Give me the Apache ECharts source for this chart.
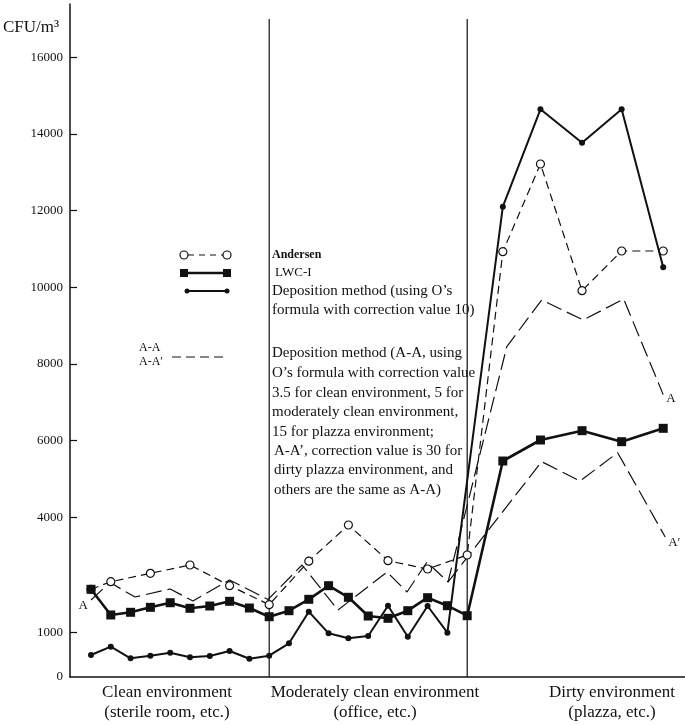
<!DOCTYPE html>
<html><head><meta charset="utf-8">
<script src="https://cdn.jsdelivr.net/npm/echarts@6/dist/echarts.min.js"></script>
<style>html,body{margin:0;padding:0;background:#fff}#c{width:685px;height:725px}</style>
</head><body><div id="c"></div>
<script>
// ---- data ----
const yTickValues = [1000, 4000, 6000, 8000, 10000, 12000, 14000, 16000];
const yAxisMin = -167, yAxisMax = 17391;      // axis bottom drawn as "0"
const xAxisMin = -1.06, xAxisMax = 30;        // sample index units
const boundaries = [9, 19];                   // region separators (sample index)
const boundaryTop = 17000;

const andersenX = [0, 1, 3, 5, 7, 9, 11, 13, 15, 17, 19, 20.8, 22.7, 24.8, 26.8, 28.9];
const andersenY = [2121, 2319, 2538, 2755, 2215, 1720, 2855, 3799, 2867, 2650, 3016, 10929, 13217, 9911, 10947, 10947];

const lwcX = [0, 1, 2, 3, 4, 5, 6, 7, 8, 9, 10, 11, 12, 13, 14, 15, 16, 17, 18, 19, 20.8, 22.7, 24.8, 26.8, 28.9];
const lwcY = [2121, 1451, 1521, 1651, 1771, 1625, 1685, 1808, 1633, 1406, 1563, 1860, 2215, 1912, 1424, 1364, 1563, 1902, 1693, 1432, 5468, 6016, 6259, 5972, 6321];

const depX = [0, 1, 2, 3, 4, 5, 6, 7, 8, 9, 10, 11, 12, 13, 14, 15, 16, 17, 18, 20.8, 22.7, 24.8, 26.8, 28.9];
const depY = [407, 624, 321, 389, 467, 347, 381, 511, 310, 390, 712, 1537, 973, 843, 903, 1693, 884, 1685, 989, 12103, 14644, 13773, 14644, 10522];

const aaX = [0, 0.96, 2.22, 4, 5.15, 7, 8.94, 10.66, 12.47, 14.95, 15.96, 16.97, 18.03, 21.0, 22.76, 24.86, 26.9, 28.9];
const aaY = [1842, 2298, 1920, 2129, 1816, 2364, 1855, 2755, 1581, 2572, 2051, 2833, 2311, 8451, 9669, 9147, 9695, 7200];

const aapX = [18.03, 22.76, 24.7, 26.6, 29.0];
const aapY = [2311, 5450, 4946, 5685, 3486];

const regionLabels = [
  ['Clean environment', '(sterile room, etc.)'],
  ['Moderately clean environment', '(office, etc.)'],
  ['Dirty environment', '(plazza, etc.)']
];
const legendTexts = [
  'Andersen', 'LWC-I', 'Deposition method (using O\u2019s', 'formula with correction value 10)',
  'Deposition method (A-A, using', 'O\u2019s formula with correction value',
  '3.5 for clean environment, 5 for', 'moderately clean environment,',
  '15 for plazza environment;', 'A-A\u2019, correction value is 30 for',
  'dirty plazza environment, and', 'others are the same as A-A)'
];

// ---- chart ----
const SERIF = '"Liberation Serif", "Times New Roman", serif';
const pair = (xs, ys) => xs.map((x, i) => [x, ys[i]]);
const K = '#111';

const series = [];
boundaries.forEach(b => series.push({
  type: 'line', data: [[b, yAxisMin], [b, boundaryTop]], symbol: 'none', silent: true,
  lineStyle: { color: K, width: 1.2 }, z: 1
}));
series.push({
  name: 'A-A', type: 'line', data: pair(aaX, aaY), symbol: 'none', z: 2,
  lineStyle: { color: K, width: 1.2, type: [16, 6] },
  endLabel: { show: true, formatter: 'A', distance: 3, offset: [0, 4], color: K, fontFamily: SERIF, fontSize: 13 }
});
series.push({
  name: 'A-A\u2032', type: 'line', data: pair(aapX, aapY), symbol: 'none', z: 2,
  lineStyle: { color: K, width: 1.2, type: [16, 6] },
  endLabel: { show: true, formatter: 'A\u2032', distance: 3, offset: [0, 6], color: K, fontFamily: SERIF, fontSize: 13 }
});
series.push({
  name: 'Andersen', type: 'line', data: pair(andersenX, andersenY), symbol: 'circle', symbolSize: 8, z: 3,
  itemStyle: { color: '#fff', borderColor: K, borderWidth: 1.2 },
  lineStyle: { color: K, width: 1.2, type: [8, 5] }
});
series.push({
  name: 'Deposition', type: 'line', data: pair(depX, depY), symbol: 'circle', symbolSize: 6, z: 4,
  itemStyle: { color: K }, lineStyle: { color: K, width: 2 }
});
series.push({
  name: 'LWC-I', type: 'line', data: pair(lwcX, lwcY), symbol: 'rect', symbolSize: 9, z: 5,
  itemStyle: { color: K }, lineStyle: { color: K, width: 2.6 }
});

const graphic = [];
graphic.push({ type: 'text', left: 3, top: 19, style: { text: 'CFU/m\u00b3', font: '17px ' + SERIF, fill: K } });
const regionCenters = [167, 375, 612];
regionLabels.forEach((lines, i) => lines.forEach((t, j) => graphic.push({
  type: 'text', style: { text: t, x: regionCenters[i], y: 693 + j * 20, font: '17px ' + SERIF, fill: K,
    textAlign: 'center', textVerticalAlign: 'middle' }
})));
const legendY = [255, 273, 291, 310, 353, 373, 393, 412, 432, 451, 470, 490];
legendTexts.forEach((t, i) => graphic.push({
  type: 'text', style: { text: t, x: i === 1 ? 275 : (i >= 9 ? 274 : 272), y: legendY[i],
    font: (i === 0 ? 'bold 12px ' : (i === 1 ? '13px ' : '15px ')) + SERIF, fill: K, textVerticalAlign: 'middle' }
}));
// legend keys
graphic.push({ type: 'line', shape: { x1: 188, y1: 255, x2: 223, y2: 255 }, style: { stroke: K, lineWidth: 1.2, lineDash: [6, 5] } });
graphic.push({ type: 'circle', shape: { cx: 184, cy: 255, r: 4 }, style: { fill: '#fff', stroke: K, lineWidth: 1.2 } });
graphic.push({ type: 'circle', shape: { cx: 227, cy: 255, r: 4 }, style: { fill: '#fff', stroke: K, lineWidth: 1.2 } });
graphic.push({ type: 'line', shape: { x1: 184, y1: 273, x2: 227, y2: 273 }, style: { stroke: K, lineWidth: 2.6 } });
graphic.push({ type: 'rect', shape: { x: 180, y: 269, width: 8, height: 8 }, style: { fill: K } });
graphic.push({ type: 'rect', shape: { x: 223, y: 269, width: 8, height: 8 }, style: { fill: K } });
graphic.push({ type: 'line', shape: { x1: 187, y1: 291, x2: 227, y2: 291 }, style: { stroke: K, lineWidth: 2 } });
graphic.push({ type: 'circle', shape: { cx: 187, cy: 291, r: 2.5 }, style: { fill: K } });
graphic.push({ type: 'circle', shape: { cx: 227, cy: 291, r: 2.5 }, style: { fill: K } });
graphic.push({ type: 'text', style: { text: 'A-A', x: 139, y: 348, font: '12px ' + SERIF, fill: K, textVerticalAlign: 'middle' } });
graphic.push({ type: 'text', style: { text: 'A-A\u2032', x: 139, y: 362, font: '12px ' + SERIF, fill: K, textVerticalAlign: 'middle' } });
graphic.push({ type: 'line', shape: { x1: 172, y1: 357, x2: 224, y2: 357 }, style: { stroke: K, lineWidth: 1.2, lineDash: [9, 5] } });

const chart = echarts.init(document.getElementById('c'), null, { renderer: 'canvas' });
chart.setOption({
  animation: false,
  backgroundColor: '#fff',
  grid: { left: 70, right: 0, top: 4, bottom: 48 },
  xAxis: {
    type: 'value', min: xAxisMin, max: xAxisMax,
    axisLine: { show: true, onZero: false, lineStyle: { color: K, width: 1.5 } },
    axisTick: { show: false }, axisLabel: { show: false }, splitLine: { show: false }
  },
  yAxis: {
    type: 'value', min: yAxisMin, max: yAxisMax,
    axisLine: { show: true, onZero: false, lineStyle: { color: K, width: 1.5 } },
    axisTick: { show: true, inside: true, length: 7, customValues: yTickValues, lineStyle: { color: K, width: 1.2 } },
    axisLabel: { show: true, customValues: [yAxisMin].concat(yTickValues), margin: 7,
      formatter: v => (v < 0 ? '0' : String(v)), color: K, fontFamily: SERIF, fontSize: 13 },
    splitLine: { show: false }
  },
  series: series,
  graphic: graphic
});
// "A" marker at the start of the A-A curve, placed through the chart's scales
const p0 = chart.convertToPixel({ gridIndex: 0 }, [aaX[0], aaY[0]]);
graphic.push({ type: 'text', style: { text: 'A', x: p0[0] - 3, y: p0[1] + 6, font: '13px ' + SERIF, fill: K,
  textAlign: 'right', textVerticalAlign: 'middle' } });
chart.setOption({ graphic: graphic });
</script>
</body></html>
